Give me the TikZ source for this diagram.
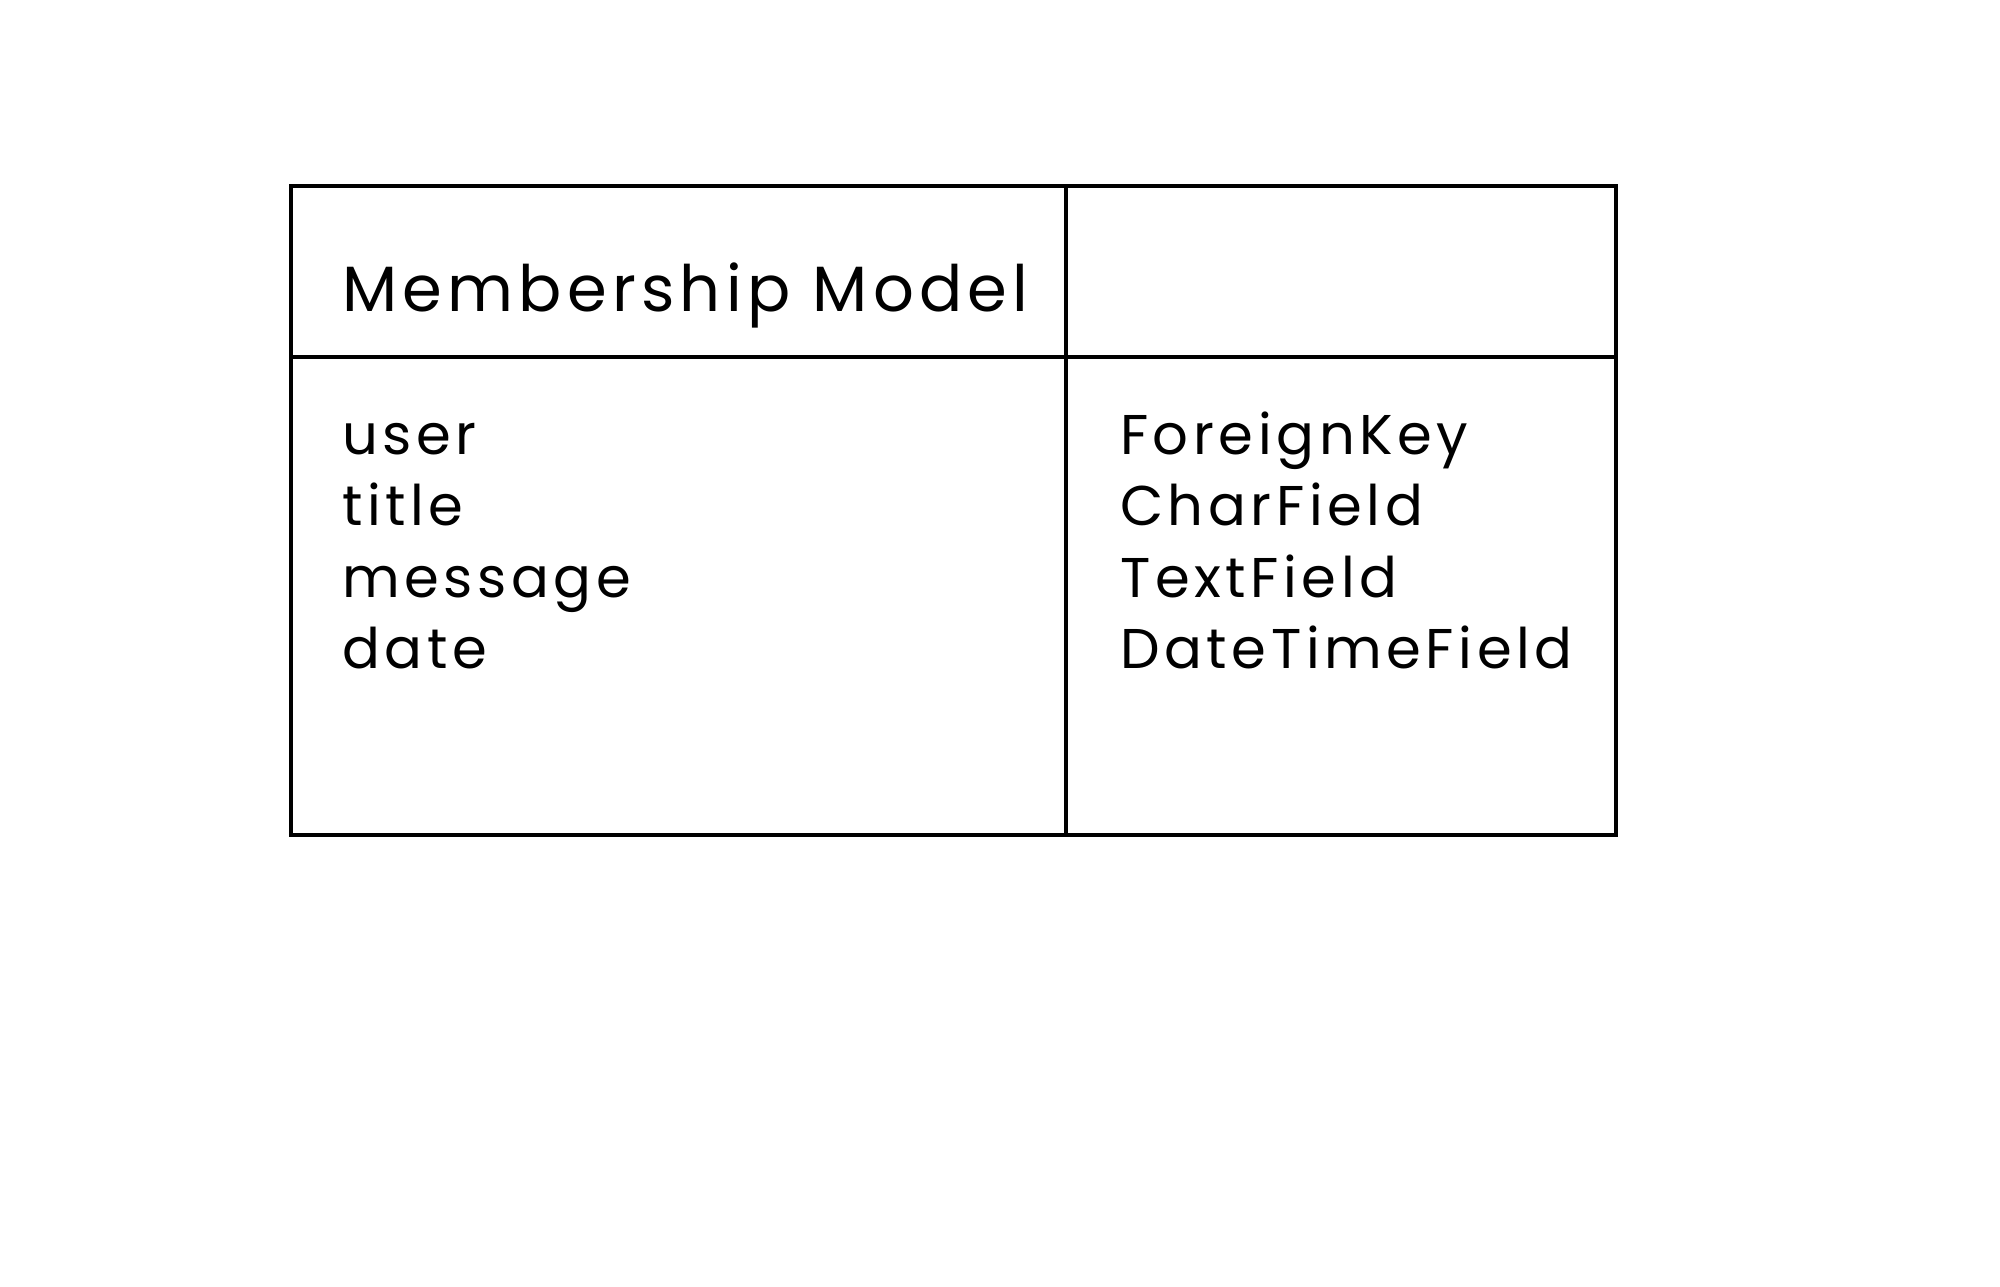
\documentclass[tikz,border=0pt]{standalone}
\usepackage{fontspec}
\setmainfont{Poppins}[LetterSpace=8.2]
\begin{document}
\begin{tikzpicture}[x=1pt,y=-1pt,
  cell/.style={draw=black,line width=4pt},
  titletext/.style={anchor=base west,inner sep=0pt,font=\fontsize{64}{70}\selectfont},
  fieldtext/.style={anchor=base west,inner sep=0pt,font=\fontsize{56}{62}\selectfont}]
\useasboundingbox (0,0) rectangle (2000,1286);
\draw[cell] (291,186) rectangle (1616,835);
\draw[cell] (1066,186) -- (1066,835);
\draw[cell] (291,357) -- (1616,357);
\node[titletext] (title) at (342,311) {Membership Model};
\node[fieldtext] (f1) at (342,454) {user};
\node[fieldtext] (f2) at (342,525) {title};
\node[fieldtext] (f3) at (342,597) {message};
\node[fieldtext] (f4) at (342,668) {date};
\node[fieldtext] (t1) at (1120,454) {ForeignKey};
\node[fieldtext] (t2) at (1120,525) {CharField};
\node[fieldtext] (t3) at (1120,597) {TextField};
\node[fieldtext] (t4) at (1120,668) {DateTimeField};
\end{tikzpicture}
\end{document}
